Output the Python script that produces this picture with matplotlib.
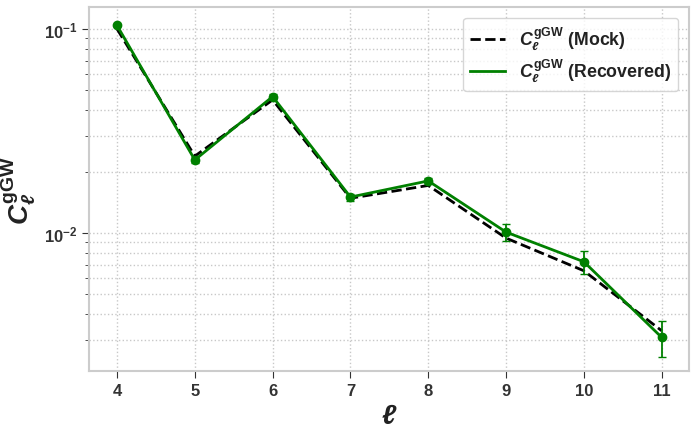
import matplotlib
matplotlib.use("Agg")
import matplotlib.pyplot as plt
from matplotlib.lines import Line2D
import numpy as np

# multipoles and spectra
ell = [4, 5, 6, 7, 8, 9, 10, 11]
cl_mock = [0.100, 0.0238, 0.0449, 0.0148, 0.0171, 0.00944, 0.00653, 0.00332]
cl_rec = [0.104, 0.0228, 0.0466, 0.0150, 0.0180, 0.0101, 0.00723, 0.00308]
cl_err = [0.0010, 0.0008, 0.0012, 0.0006, 0.0006, 0.0010, 0.0009, 0.00062]

plt.rcParams['font.family'] = ['Liberation Sans', 'DejaVu Sans']
plt.rcParams['font.weight'] = 'bold'
plt.rcParams['mathtext.fontset'] = 'custom'
plt.rcParams['mathtext.rm'] = 'Liberation Sans:bold'
plt.rcParams['mathtext.it'] = 'Liberation Sans:bold:italic'
plt.rcParams['mathtext.bf'] = 'Liberation Sans:bold'

fig = plt.figure(figsize=(6.98, 4.35), dpi=100)
ax = fig.add_axes([0.1275, 0.145, 0.8595, 0.8366])

ax.plot(ell, cl_mock, 'k--', lw=2, zorder=3)
ax.errorbar(ell, cl_rec, yerr=cl_err, color='green', lw=2, marker='o', ms=6,
            capsize=3, elinewidth=1.3, zorder=4)

ax.set_yscale('log')
ax.set_xlim(3.64, 11.35)
ax.set_ylim(0.00211, 0.128)
ax.set_xticks(ell)

ax.grid(True, which='both', ls=':', color='#c8c8c8', lw=1)
for s in ax.spines.values():
    s.set_color('#cccccc')
    s.set_linewidth(1.5)
ax.tick_params(axis='both', which='major', labelsize=12, color='#333333', length=5,
               labelcolor='#333333')
ax.tick_params(axis='y', which='minor', color='#333333', length=3)

ax.set_xlabel(r'$\ell$', fontsize=20, color='#222222')
ax.set_ylabel(r'$C_\ell^{\rm gGW}$', fontsize=20, color='#222222')

handles = [Line2D([], [], color='k', ls='--', lw=2),
           Line2D([], [], color='green', lw=2)]
labels = [r'$C_\ell^{\rm gGW}$ (Mock)', r'$C_\ell^{\rm gGW}$ (Recovered)']
leg = ax.legend(handles, labels, loc='upper right', fontsize=12.8, frameon=True,
                handlelength=1.95, borderpad=0.4, labelspacing=0.25,
                borderaxespad=0.6)
leg.get_frame().set_edgecolor('#cccccc')
for t in leg.get_texts():
    t.set_color('#222222')

fig.savefig('out.png', dpi=100)
